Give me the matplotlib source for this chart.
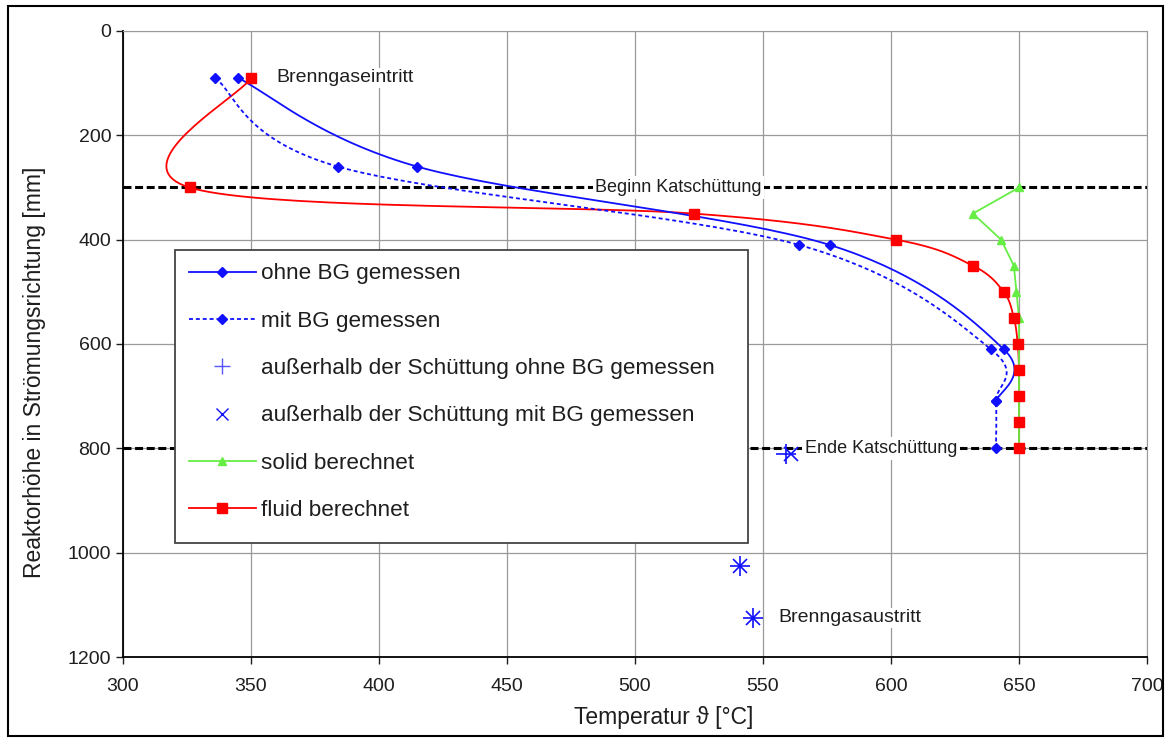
import numpy as np
import matplotlib
matplotlib.use("Agg")
import matplotlib.pyplot as plt
from matplotlib.lines import Line2D
from matplotlib.patches import Rectangle

plt.rcParams['font.family'] = ['Liberation Sans', 'DejaVu Sans']

# ---- data ----
ohne_T = [345, 415, 576, 644, 641]
ohne_h = [90, 260, 410, 610, 710]
mit_T = [336, 384, 564, 639, 641, 641]
mit_h = [90, 260, 410, 610, 710, 800]
aus_ohne_T = [559, 541, 546]
aus_ohne_h = [810, 1025, 1125]
aus_mit_T = [561, 541, 546]
aus_mit_h = [810, 1025, 1125]
solid_T = [650, 632, 643, 648, 649, 650, 650, 650, 650, 650, 650]
solid_h = [300, 350, 400, 450, 500, 550, 600, 650, 700, 750, 800]
fluid_T = [350, 326, 523, 602, 632, 644, 648, 649.5, 650, 650, 650, 650]
fluid_h = [90, 300, 350, 400, 450, 500, 550, 600, 650, 700, 750, 800]
bett_h = [300, 800]
bett_labels = ["Beginn Katschüttung", "Ende Katschüttung"]
bett_label_T = [517, 596]
x_ticks = [300, 350, 400, 450, 500, 550, 600, 650, 700]
y_ticks = [0, 200, 400, 600, 800, 1000, 1200]

BLUE = '#1010ff'
RED = '#ff0000'
GREEN = '#66ee44'
TXT = '#1e1e1e'

W, H = 1171, 742
fig = plt.figure(figsize=(W / 100, H / 100), dpi=100)
ax = fig.add_axes([123 / W, 1 - 657 / H, (1147 - 123) / W, (657 - 31) / H])
ax.set_xlim(300, 700)
ax.set_ylim(1200, 0)
ax.set_xticks(x_ticks)
ax.set_yticks(y_ticks)


def smooth(xs, ys, n=40):
    pts = ax.transData.transform(np.column_stack([xs, ys]))
    out = []
    m = len(pts)
    for i in range(m - 1):
        p0 = pts[i - 1] if i > 0 else pts[i]
        p1 = pts[i]
        p2 = pts[i + 1]
        p3 = pts[i + 2] if i + 2 < m else pts[i + 1]
        c1 = p1 + (p2 - p0) / 6.0
        c2 = p2 - (p3 - p1) / 6.0
        t = np.linspace(0, 1, n)[:, None]
        seg = ((1 - t) ** 3) * p1 + 3 * ((1 - t) ** 2) * t * c1 + 3 * (1 - t) * t ** 2 * c2 + t ** 3 * p2
        out.append(seg if i == 0 else seg[1:])
    curve = np.vstack(out)
    d = ax.transData.inverted().transform(curve)
    return d[:, 0], d[:, 1]


ax.grid(True, color='#9a9a9a', lw=0.9)
ax.set_axisbelow(True)

# catalyst bed borders
for hb, lab, tx in zip(bett_h, bett_labels, bett_label_T):
    ax.axhline(hb, color='black', lw=2.2, ls=(0, (2.6, 1.2)), zorder=2)
    ax.text(tx, hb, lab, ha='center', va='center', fontsize=13,
            color=TXT, zorder=3,
            bbox=dict(facecolor='white', edgecolor='none', pad=2))

# curves
sx, sy = smooth(fluid_T, fluid_h)
ax.plot(sx, sy, color=RED, lw=1.3, zorder=4)
ax.plot(fluid_T, fluid_h, ls='none', marker='s', ms=7, color=RED, zorder=6)

ax.plot(solid_T, solid_h, color=GREEN, lw=1.3, marker='^', ms=6, zorder=5)

sx, sy = smooth(mit_T, mit_h)
ax.plot(sx, sy, color=BLUE, lw=1.3, ls=(0, (2.2, 1.6)), zorder=4)
ax.plot(mit_T, mit_h, ls='none', marker='D', ms=5.5, color=BLUE, zorder=6)

sx, sy = smooth(ohne_T, ohne_h)
ax.plot(sx, sy, color=BLUE, lw=1.3, zorder=4)
ax.plot(ohne_T, ohne_h, ls='none', marker='D', ms=5.5, color=BLUE, zorder=6)

ax.plot(aus_ohne_T, aus_ohne_h, ls='none', marker='+', ms=14, mew=1.2, color=BLUE, zorder=6)
ax.plot(aus_mit_T, aus_mit_h, ls='none', marker='x', ms=10, mew=1.2, color=BLUE, zorder=6)

ax.text(360, 90, "Brenngaseintritt", ha='left', va='center', fontsize=14, color=TXT,
        bbox=dict(facecolor='white', edgecolor='none', pad=1))
ax.text(556, 1125, "Brenngasaustritt", ha='left', va='center', fontsize=14, color=TXT,
        bbox=dict(facecolor='white', edgecolor='none', pad=1))

# axes styling
for s in ['top', 'right']:
    ax.spines[s].set_color('#9a9a9a')
for s in ['left', 'bottom']:
    ax.spines[s].set_color('black')
    ax.spines[s].set_linewidth(1.3)
ax.tick_params(axis='both', labelsize=14, colors=TXT, length=5, width=1.0, direction='out')
ax.tick_params(axis='x', pad=10)
ax.set_xlabel("Temperatur ϑ [°C]", fontsize=16.5, color=TXT, labelpad=4)
ax.xaxis.set_label_coords(0.528, -0.078)
ax.set_ylabel("Reaktorhöhe in Strömungsrichtung [mm]", fontsize=16.5, color=TXT)
ax.yaxis.set_label_coords(-0.075, 0.455)

# legend frame (Excel-like, wider than text)
ax.add_patch(Rectangle((0.0508, 0.1821), 0.6104 - 0.0508, 0.6502 - 0.1821,
                       transform=ax.transAxes, facecolor='white', edgecolor='#444444',
                       lw=1.3, zorder=9))

handles = [
    Line2D([], [], color=BLUE, lw=1.3, marker='D', ms=5),
    Line2D([], [], color=BLUE, lw=1.3, ls=(0, (2.2, 1.6)), marker='D', ms=5),
    Line2D([], [], color='#5555ff', ls='none', marker='+', ms=12, mew=1.0),
    Line2D([], [], color=BLUE, ls='none', marker='x', ms=9, mew=1.0),
    Line2D([], [], color=GREEN, lw=1.3, marker='^', ms=6),
    Line2D([], [], color=RED, lw=1.3, marker='s', ms=7),
]
labels = ["ohne BG gemessen", "mit BG gemessen",
          "außerhalb der Schüttung ohne BG gemessen",
          "außerhalb der Schüttung mit BG gemessen",
          "solid berechnet", "fluid berechnet"]
leg = ax.legend(handles, labels, loc='upper left', bbox_to_anchor=(0.0508, 0.6502),
                borderaxespad=0, fontsize=16.2, labelspacing=1.17, handlelength=3.0,
                handletextpad=0.2, borderpad=0.6, frameon=False)
for t in leg.get_texts():
    t.set_color(TXT)
leg.set_zorder(10)

fig.patches.append(Rectangle((8 / W, 6 / H), (1163 - 8) / W, (736 - 6) / H,
                             transform=fig.transFigure, fill=False, ec='black', lw=1.5))

fig.savefig("out.png", dpi=100)
